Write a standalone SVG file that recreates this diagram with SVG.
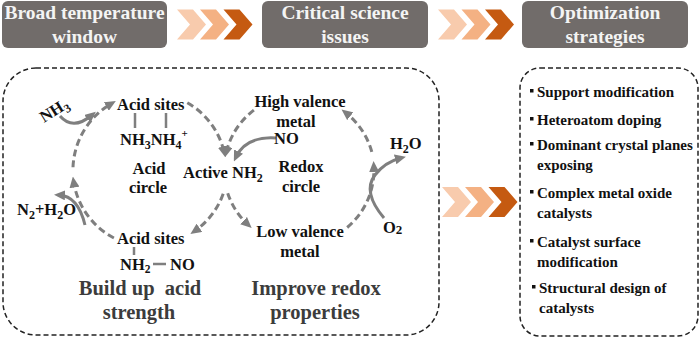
<svg xmlns="http://www.w3.org/2000/svg" width="700" height="338" viewBox="0 0 700 338">
<style>
.title{font-family:"Liberation Serif","Times New Roman",serif;font-weight:bold;font-size:19.5px;fill:#f4f4f4;text-anchor:middle}
.hbox{fill:#716c6a}
.c1{fill:#f8cbad}.c2{fill:#f4b183}.c3{fill:#c55a11}
.lbl{font-family:"Liberation Serif","Times New Roman",serif;font-weight:bold;font-size:16.5px;fill:#111}
.big{font-family:"Liberation Serif","Times New Roman",serif;font-weight:bold;font-size:20.5px;fill:#3c3c3c;text-anchor:middle}
.li{font-family:"Liberation Serif","Times New Roman",serif;font-weight:bold;font-size:15px;fill:#111}
.mid{text-anchor:middle}
.frame{fill:none;stroke:#222;stroke-width:1.5;stroke-dasharray:5 3}
.dash{fill:none;stroke:#7f7f7f;stroke-width:3;stroke-dasharray:7 4;marker-end:url(#ah)}
.solid{fill:none;stroke:#7f7f7f;stroke-width:3;marker-end:url(#ah)}
.tick{fill:none;stroke:#7f7f7f;stroke-width:2.5}
.bul{fill:#111}
</style>
<defs>
<marker id="ah" markerUnits="userSpaceOnUse" markerWidth="11" markerHeight="10" refX="6" refY="5" orient="auto">
<path d="M0,0 L11,5 L0,10 Z" fill="#7f7f7f"/>
</marker>
<polygon id="chev" points="0,0 16,0 29,15 16,30 0,30 13,15"/>
</defs>

<g id="header-broad">
<rect class="hbox" x="2" y="1" width="165" height="47" rx="6"/>
<text class="title" x="84.5" y="19">Broad temperature</text>
<text class="title" x="84.5" y="43">window</text>
</g>
<g id="header-critical">
<rect class="hbox" x="262" y="1" width="166" height="47" rx="6"/>
<text class="title" x="345" y="19">Critical science</text>
<text class="title" x="345" y="43">issues</text>
</g>
<g id="header-optimization">
<rect class="hbox" x="522" y="1" width="166" height="47" rx="6"/>
<text class="title" x="605" y="19">Optimization</text>
<text class="title" x="605" y="43">strategies</text>
</g>

<g id="chevrons-top1">
<use href="#chev" class="c1" x="177" y="9.5"/>
<use href="#chev" class="c2" x="200" y="9.5"/>
<use href="#chev" class="c3" x="223.5" y="9.5"/>
</g>
<g id="chevrons-top2">
<use href="#chev" class="c1" x="438" y="9.5"/>
<use href="#chev" class="c2" x="461.5" y="9.5"/>
<use href="#chev" class="c3" x="485" y="9.5"/>
</g>
<g id="chevrons-mid">
<use href="#chev" class="c1" x="442" y="187"/>
<use href="#chev" class="c2" x="465" y="187"/>
<use href="#chev" class="c3" x="488.5" y="187"/>
</g>

<g id="mechanism-frame">
<rect class="frame" x="3" y="68" width="436" height="267" rx="33"/>
</g>
<g id="strategy-frame">
<rect class="frame" x="520" y="68" width="178" height="268" rx="20"/>
</g>

<g id="connectors">
<path class="dash" d="M187.3,102.7 A77,77 0 0 1 224.2,152.4"/>
<path class="dash" d="M223.2,193.8 A77,77 0 0 1 194.5,231.2"/>
<path class="dash" d="M113.9,238 A77,77 0 0 1 73.6,181.5"/>
<path class="dash" d="M73,167.3 A77,77 0 0 1 111.5,103.5"/>
<path class="dash" d="M253.9,110.1 A75,75 0 0 0 226.2,152.5"/>
<path class="dash" d="M227.7,193.2 A75,75 0 0 0 248,224.7"/>
<path class="dash" d="M347.2,227.5 A75,75 0 0 0 373.8,166"/>
<path class="dash" d="M371.8,151.9 A75,75 0 0 0 345.5,112.5"/>
<path class="solid" d="M60,116 Q73,131 92,115"/>
<path class="solid" d="M85,225 Q78,196 59,195"/>
<path class="solid" d="M276,138 Q246,136 236,157"/>
<path class="solid" d="M384,218 Q362,192 375,175 Q385,162 401,158"/>
<line class="tick" x1="135" y1="113" x2="135" y2="128"/>
<line class="tick" x1="166" y1="113" x2="166" y2="128"/>
<line class="tick" x1="134" y1="247" x2="134" y2="255"/>
<line class="tick" x1="153" y1="264" x2="166" y2="264"/>
</g>

<g id="acid-sites-top">
<text class="lbl" x="117" y="110">Acid sites</text>
</g>
<g id="adsorbed-nh3-nh4">
<text class="lbl" x="120" y="145">NH<tspan dy="4" font-size="12">3</tspan><tspan dy="-4">NH</tspan><tspan dy="4" font-size="12">4</tspan><tspan dy="-12" font-size="11">+</tspan></text>
</g>
<g id="acid-circle-label">
<text class="lbl mid" x="149" y="174">Acid</text>
<text class="lbl mid" x="148" y="193">circle</text>
</g>
<g id="active-nh2">
<text class="lbl" x="183" y="178">Active NH<tspan dy="4" font-size="12">2</tspan></text>
</g>
<g id="high-valence">
<text class="lbl mid" x="300" y="107">High valence</text>
<text class="lbl mid" x="296" y="127">metal</text>
</g>
<g id="no-gas">
<text class="lbl" x="274" y="144">NO</text>
</g>
<g id="redox-circle-label">
<text class="lbl mid" x="301" y="172">Redox</text>
<text class="lbl mid" x="301" y="192">circle</text>
</g>
<g id="h2o">
<text class="lbl" x="390" y="149">H<tspan dy="4" font-size="12">2</tspan><tspan dy="-4">O</tspan></text>
</g>
<g id="o2">
<text class="lbl" x="383" y="233">O<tspan font-size="13" dy="1">2</tspan></text>
</g>
<g id="nh3-gas">
<text class="lbl" transform="translate(44,123) rotate(-32)">NH<tspan dy="4" font-size="12">3</tspan></text>
</g>
<g id="n2-h2o">
<text class="lbl" x="17" y="215">N<tspan dy="4" font-size="12">2</tspan><tspan dy="-4">+H</tspan><tspan dy="4" font-size="12">2</tspan><tspan dy="-4">O</tspan></text>
</g>
<g id="acid-sites-bottom">
<text class="lbl" x="117" y="244">Acid sites</text>
</g>
<g id="nh2-no">
<text class="lbl" x="120" y="270">NH<tspan dy="3" font-size="11.5">2</tspan></text>
<text class="lbl" x="170" y="270">NO</text>
</g>
<g id="low-valence">
<text class="lbl mid" x="300" y="237">Low valence</text>
<text class="lbl mid" x="300" y="257">metal</text>
</g>
<g id="acid-strength">
<text class="big" x="140" y="295" xml:space="preserve">Build up  acid</text>
<text class="big" x="139" y="319">strength</text>
</g>
<g id="redox-properties">
<text class="big" x="316" y="295">Improve redox</text>
<text class="big" x="315" y="319">properties</text>
</g>

<g id="strategies">
<rect class="bul" x="530" y="89" width="3.5" height="3.5"/>
<text class="li" x="537" y="97">Support modification</text>
<rect class="bul" x="530" y="117" width="3.5" height="3.5"/>
<text class="li" x="537" y="125">Heteroatom doping</text>
<rect class="bul" x="530" y="142" width="3.5" height="3.5"/>
<text class="li" x="537" y="150">Dominant crystal planes</text>
<text class="li" x="537" y="170">exposing</text>
<rect class="bul" x="530" y="190" width="3.5" height="3.5"/>
<text class="li" x="537" y="198">Complex metal oxide</text>
<text class="li" x="537" y="218">catalysts</text>
<rect class="bul" x="530" y="239" width="3.5" height="3.5"/>
<text class="li" x="537" y="247">Catalyst surface</text>
<text class="li" x="537" y="267">modification</text>
<rect class="bul" x="532" y="285" width="3.5" height="3.5"/>
<text class="li" x="539" y="293">Structural design of</text>
<text class="li" x="539" y="313">catalysts</text>
</g>
</svg>
